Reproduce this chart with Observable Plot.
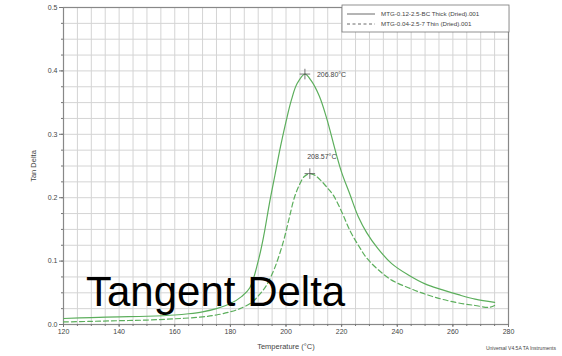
<!DOCTYPE html>
<html><head><meta charset="utf-8">
<script src="https://cdn.jsdelivr.net/npm/d3@7"></script>
<script src="https://cdn.jsdelivr.net/npm/@observablehq/plot@0.6"></script>
<style>
html,body{margin:0;padding:0;background:#fff;}
#wrap{position:relative;width:562px;height:356px;font-family:"Liberation Sans",Arial,sans-serif;}
</style></head><body><div id="wrap"></div>
<script>
const thickT = [120,130,140,150,160,165,170,175,180,184,187,190,192,194,196,198,200,202,204,206.8,209,212,214.5,218,220,223,226,229,233,238,244,250,256,262,268,275];
const thickV = [0.0095,0.011,0.012,0.013,0.015,0.017,0.02,0.025,0.033,0.044,0.058,0.1,0.14,0.19,0.235,0.28,0.32,0.355,0.38,0.395,0.385,0.36,0.327,0.27,0.24,0.205,0.17,0.145,0.12,0.096,0.078,0.064,0.055,0.047,0.04,0.035];
const thinT = [120,130,140,150,160,170,175,180,184,188,191,193,196,199,201,203,205,206.5,208.57,210.5,213,215,217,220,223,226,229,233,238,244,250,256,262,268,273,275];
const thinV = [0.004,0.005,0.006,0.007,0.009,0.012,0.015,0.02,0.026,0.036,0.05,0.062,0.09,0.13,0.165,0.2,0.222,0.233,0.238,0.235,0.225,0.215,0.204,0.178,0.148,0.125,0.105,0.087,0.07,0.058,0.048,0.04,0.034,0.03,0.027,0.03];
const seriesNames = ["MTG-0.12-2.5-BC Thick (Dried).001","MTG-0.04-2.5-7 Thin (Dried).001"];
const peakT = [206.8, 208.57];
const peakV = [0.395, 0.238];
const peakLabels = ["206.80°C","208.57°C"];
const xTicks = [120,140,160,180,200,220,240,260,280];
const yTicks = [0,0.1,0.2,0.3,0.4,0.5];
const xMinor = d3.range(120,281,5);
const yMinor = d3.range(0,0.5001,0.025);

const green = "#5cae5c";
const thick = thickT.map((t,i)=>({t, v: thickV[i]}));
const thin = thinT.map((t,i)=>({t, v: thinV[i]}));
const peaks = peakT.map((t,i)=>({t, v: peakV[i], label: peakLabels[i]}));

const chart = Plot.plot({
  width: 562, height: 356,
  marginLeft: 63, marginTop: 7, marginRight: 54, marginBottom: 32,
  style: {fontFamily: "Liberation Sans, Arial, sans-serif", fontSize: "7px", color: "#444", background: "#fff"},
  x: {domain: [120,280], label: null},
  y: {domain: [0,0.5], label: null},
  marks: [
    Plot.ruleX(xMinor, {stroke: "#d4d4d4", strokeWidth: 1}),
    Plot.ruleY(yMinor, {stroke: "#d4d4d4", strokeWidth: 1}),
    Plot.frame({stroke: "#888", strokeWidth: 1.2}),
    Plot.line(thick, {x: "t", y: "v", stroke: green, strokeWidth: 1.2, curve: "catmull-rom"}),
    Plot.line(thin, {x: "t", y: "v", stroke: green, strokeWidth: 1.2, strokeDasharray: "5,3", curve: "catmull-rom"}),
    Plot.dot(peaks, {x: "t", y: "v", symbol: "plus", r: 3.5, stroke: "#555", strokeWidth: 0.8}),
    Plot.text(peaks.slice(0,1), {x: "t", y: "v", text: "label", dx: 12, dy: 1, textAnchor: "start", fontSize: 7, fill: "#444"}),
    Plot.text(peaks.slice(1), {x: "t", y: "v", text: "label", dx: 12, dy: -17, textAnchor: "middle", fontSize: 7, fill: "#444"}),
    Plot.axisX({ticks: xTicks, tickSize: 3, tickPadding: 2, fontSize: 7, stroke: "#777", label: null}),
    Plot.axisX({ticks: xMinor, tickSize: 2, tickFormat: () => "", stroke: "#777", label: null}),
    Plot.axisY({ticks: yTicks, tickFormat: d3.format(".1f"), tickSize: 4, tickPadding: 2, fontSize: 7, stroke: "#777", label: null}),
    Plot.axisY({ticks: yMinor, tickSize: 2, tickFormat: () => "", stroke: "#777", label: null})
  ]
});
document.getElementById("wrap").appendChild(chart);

const svg = d3.select(chart);
// axis titles
svg.append("text").attr("transform","translate(36,166) rotate(-90)").attr("text-anchor","middle")
  .attr("font-size",7.5).attr("fill","#444").text("Tan Delta");
svg.append("text").attr("x",286).attr("y",349).attr("text-anchor","middle")
  .attr("font-size",7.5).attr("fill","#444").text("Temperature (°C)");
svg.append("text").attr("x",556).attr("y",350).attr("text-anchor","end")
  .attr("font-size",5).attr("fill","#444").text("Universal V4.5A TA Instruments");
// legend
const lg = svg.append("g");
lg.append("rect").attr("x",342).attr("y",5).attr("width",167).attr("height",27)
  .attr("fill","#fff").attr("stroke","#777").attr("stroke-width",0.8);
seriesNames.forEach((name,i)=>{
  const y = 14 + i*10;
  lg.append("line").attr("x1",347).attr("x2",375).attr("y1",y).attr("y2",y)
    .attr("stroke","#444").attr("stroke-width",0.8).attr("stroke-dasharray", i ? "3,2.5" : null);
  lg.append("text").attr("x",381).attr("y",y+2.3).attr("text-anchor","start").attr("font-size",6.2).attr("fill","#444").text(name);
});
// big overlay title
svg.append("text").attr("x",86).attr("y",306).attr("text-anchor","start").attr("font-size",42).attr("fill","#000")
  .attr("font-family","Liberation Sans, Arial, sans-serif").text("Tangent Delta");
</script></body></html>
